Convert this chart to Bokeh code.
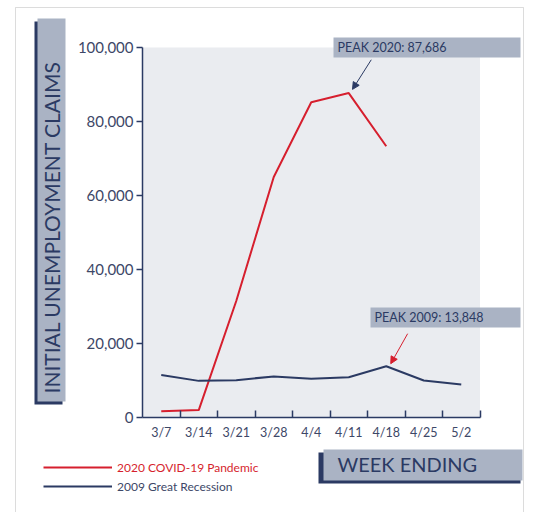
import math
from bokeh.plotting import figure
from bokeh.models import (FixedTicker, BoxAnnotation, Label, Arrow, NormalHead,
                          Legend, LegendItem, Range1d, NumeralTickFormatter, LinearAxis)
from bokeh.embed import file_html
from bokeh.resources import INLINE

# ---- data ----
weeks = ["3/7", "3/14", "3/21", "3/28", "4/4", "4/11", "4/18", "4/25", "5/2"]
covid_2020 = [1700, 2000, 31500, 65000, 85200, 87686, 73300]
recession_2009 = [11500, 9900, 10100, 11100, 10450, 10900, 13848, 10000, 8900]
y_ticks = [0, 20000, 40000, 60000, 80000, 100000]
series_names = ["2020 COVID-19 Pandemic", "2009 Great Recession"]
y_title = "INITIAL UNEMPLOYMENT CLAIMS"
x_title = "WEEK ENDING"

FONT = "Lato"
NAVY = "#2b3a63"
RED = "#d61f2e"
BOX = "#aab3c4"
PLOT_BG = "#eaecf0"
TEXT = "#3d4767"

# ---- layout (canvas pixels) ----
W, H = 533, 512
PL, PR, PT, PB = 142, 479.5, 47, 417          # data area inside the canvas
Y_MAX = 100000
n = len(weeks)
ppx = (PR - PL) / n                            # pixels per category
ppy = (PB - PT) / Y_MAX                        # pixels per claim
x0 = -0.5 - PL / ppx
x1 = n - 0.5 + (W - PR) / ppx
y0 = -(H - PB) / ppy
y1 = Y_MAX + PT / ppy

p = figure(width=W, height=H, output_backend="svg", toolbar_location=None,
           x_range=Range1d(x0, x1), y_range=Range1d(y0, y1),
           x_axis_location=None, y_axis_location=None, min_border=0)
p.background_fill_color = "white"
p.border_fill_color = "white"
p.outline_line_color = None
p.grid.visible = False

# plot background
p.add_layout(BoxAnnotation(left=-0.5, right=n - 0.5, bottom=0, top=Y_MAX,
                           fill_color=PLOT_BG, fill_alpha=1, line_color=None, level="underlay"))

# x axis: labels at category centres, tick marks at category boundaries
xa = LinearAxis(fixed_location=0, bounds=(-0.5, n - 0.5))
xa.ticker = FixedTicker(ticks=list(range(n)), minor_ticks=[i + 0.5 for i in range(n)])
xa.major_label_overrides = {i: w for i, w in enumerate(weeks)}
xa.major_tick_line_color = None
xa.major_tick_out = 0
xa.major_tick_in = 0
xa.minor_tick_line_color = NAVY
xa.minor_tick_line_width = 1.5
xa.minor_tick_in = 7
xa.minor_tick_out = 0
xa.axis_line_color = NAVY
xa.axis_line_width = 1.5
xa.major_label_standoff = 7
xa.major_label_text_font = FONT
xa.major_label_text_font_size = "12.5px"
xa.major_label_text_color = TEXT
p.add_layout(xa, "below")

ya = LinearAxis(fixed_location=-0.5, bounds=(0, Y_MAX))
ya.ticker = FixedTicker(ticks=y_ticks)
ya.formatter = NumeralTickFormatter(format="0,0")
ya.major_tick_out = 6
ya.major_tick_in = 0
ya.major_tick_line_color = NAVY
ya.major_tick_line_width = 1.5
ya.minor_tick_line_color = None
ya.axis_line_color = NAVY
ya.axis_line_width = 1.5
ya.major_label_standoff = 3
ya.major_label_text_font = FONT
ya.major_label_text_font_size = "15px"
ya.major_label_text_color = TEXT
p.add_layout(ya, "left")

# ---- lines ----
r_covid = p.line(list(range(len(covid_2020))), covid_2020, line_color=RED, line_width=2)
r_rec = p.line(list(range(len(recession_2009))), recession_2009, line_color=NAVY, line_width=2)


def sy(Y):
    """canvas y (from top) -> screen units (from bottom)"""
    return H - Y


def box(l, r, t, b, color=None, line=None):
    p.add_layout(BoxAnnotation(left=l, right=r, top=sy(t), bottom=sy(b),
                               left_units="screen", right_units="screen",
                               top_units="screen", bottom_units="screen",
                               fill_color=color if color else "white",
                               fill_alpha=1 if color else 0,
                               line_color=line, line_width=1))


def label(x, Y, text, size, color=NAVY, angle=0):
    p.add_layout(Label(x=x, y=sy(Y), x_units="screen", y_units="screen", text=text,
                       angle=angle, text_align="left", text_baseline="middle",
                       text_font=FONT, text_font_size=size, text_color=color))


# outer frame
box(15, 523, 7, 520, None, "#8c8c8c")

# y title box (navy shadow + grey box)
box(34, 62, 21, 404, NAVY)
box(37, 65, 18, 401, BOX)
label(51, 393, y_title, "21px", angle=math.pi / 2)

# x title box
box(318, 520, 452, 483, NAVY)
box(323, 522, 449, 480, BOX)
label(337, 463, x_title, "20px")

# peak callouts
peak20 = max(covid_2020)
i20 = covid_2020.index(peak20)
peak09 = max(recession_2009)
i09 = recession_2009.index(peak09)

box(333, 520, 37, 57, BOX)
label(337, 47, f"PEAK 2020: {peak20:,}", "12.5px")
box(370, 520, 307, 327, BOX)
label(374, 317, f"PEAK 2009: {peak09:,}", "12.5px")

p.add_layout(Arrow(x_start=i20 + 0.6, y_start=peak20 + 9000, x_end=i20 + 0.1, y_end=peak20 + 1000,
                   line_color=NAVY, line_width=1,
                   end=NormalHead(size=7, fill_color=NAVY, line_color=NAVY)))
p.add_layout(Arrow(x_start=i09 + 0.57, y_start=peak09 + 8800, x_end=i09 + 0.12, y_end=peak09 + 700,
                   line_color=RED, line_width=1,
                   end=NormalHead(size=7, fill_color=RED, line_color=RED)))

# ---- legends ----
for name, rend, color, Ybottom in [(series_names[0], r_covid, RED, 477),
                                   (series_names[1], r_rec, TEXT, 496)]:
    leg = Legend(items=[LegendItem(label=name, renderers=[rend])], location=(43, sy(Ybottom)),
                 glyph_width=69, glyph_height=20, label_height=20, label_standoff=5,
                 padding=0, margin=0, border_line_color=None, background_fill_alpha=0,
                 label_text_font=FONT, label_text_font_size="12px", label_text_color=color)
    p.add_layout(leg)

open("out.html", "w").write(file_html(p, INLINE))
